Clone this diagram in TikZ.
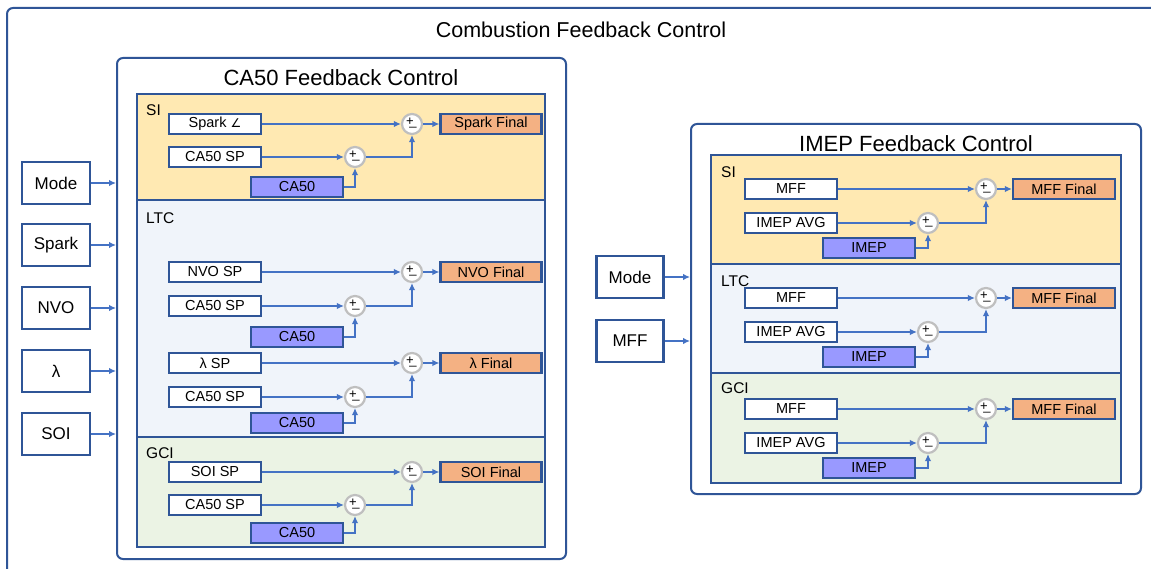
\documentclass[tikz,border=0pt]{standalone}
\usepackage{fontspec}
\setmainfont{Liberation Sans}
\newfontfamily\symfont{DejaVu Sans}
\usetikzlibrary{arrows.meta, positioning, calc}
\definecolor{cBorder}{RGB}{47,85,151}
\definecolor{cArrow}{RGB}{68,114,196}
\definecolor{cSI}{RGB}{255,233,178}
\definecolor{cLTC}{RGB}{240,244,250}
\definecolor{cGCI}{RGB}{235,243,228}
\definecolor{cFinal}{RGB}{244,177,131}
\definecolor{cMeas}{RGB}{153,153,255}
\definecolor{cSum}{RGB}{191,191,191}
\tikzset{
	ctrlbox/.style  ={rectangle, rounded corners=6pt, draw=cBorder, line width=2pt, fill=white},
	modepanel/.style={rectangle, draw=cBorder, line width=2.2pt, inner sep=0pt},
	inbox/.style    ={rectangle, draw=cBorder, line width=2.2pt, fill=white, minimum width=68pt, minimum height=42pt, font=\fontsize{17}{19}\selectfont},
	spbox/.style    ={rectangle, draw=cBorder, line width=2.2pt, fill=white, minimum width=92pt, minimum height=20pt, inner sep=0pt, font=\fontsize{14.5}{16}\selectfont},
	measbox/.style  ={spbox, fill=cMeas},
	finalbox/.style ={spbox, fill=cFinal, minimum width=101pt},
	sumpt/.style    ={circle, draw=cSum, line width=2.2pt, fill=white, minimum size=20pt, inner sep=0pt,
		path picture={
			\node[inner sep=0pt, font=\fontsize{13}{13}\selectfont] at ([xshift=-2pt,yshift=2.5pt]path picture bounding box.center) {+};
			\node[inner sep=0pt, font=\fontsize{13}{13}\selectfont] at ([xshift=1pt,yshift=-3pt]path picture bounding box.center) {\_};
		}},
	sig/.style      ={-{Latex[length=7pt,width=6.5pt]}, line width=1.8pt, draw=cArrow},
	paneltag/.style ={anchor=west, inner sep=0pt, font=\fontsize{15.5}{17}\selectfont},
	boxtitle/.style ={inner sep=0pt, font=\fontsize{22}{24}\selectfont},
}

\begin{document}
\begin{tikzpicture}[x=1pt, y=-1pt]
	\useasboundingbox (0,0) rectangle (1151,569);
	\clip (0,0) rectangle (1151,569);
	% outer frame
	\draw[ctrlbox] (7,8) rectangle (1170,590);
	\node[boxtitle, font=\fontsize{21.5}{23}\selectfont] (ttl) at (581,30) {Combustion Feedback Control};

	% CA50 loop
	\node[ctrlbox, minimum width=449pt, minimum height=501pt] (ca) at (341.5,308.5) {};
	\node[boxtitle] (caT) at (341,78) {CA50 Feedback Control};
	\node[modepanel, fill=cSI, minimum width=408pt, minimum height=106pt] (caSI) at (341,147) {};
	\node[modepanel, fill=cLTC, minimum width=408pt, minimum height=237pt] (caLTC) at (341,318.5) {};
	\node[modepanel, fill=cGCI, minimum width=408pt, minimum height=110pt] (caGCI) at (341,492) {};
	\node[paneltag] at (146,110) {SI};
	\node[paneltag] at (146,218) {LTC};
	\node[paneltag] at (146,453) {GCI};

	% SI
	\node[spbox] (sA) at (215,124) {Spark {\symfont\fontsize{12}{14}\selectfont ∠}};
	\node[sumpt] (sA1) at (412,124) {};
	\node[finalbox] (sAo) at (491,124) {Spark Final};
	\node[spbox] (sAr) at (215,157) {CA50 SP};
	\node[sumpt] (sA2) at (355,157) {};
	\node[measbox] (sAm) at (297,187) {CA50};
	% LTC, NVO
	\node[spbox] (lA) at (215,272) {NVO SP};
	\node[sumpt] (lA1) at (412,272) {};
	\node[finalbox] (lAo) at (491,272) {NVO Final};
	\node[spbox] (lAr) at (215,306) {CA50 SP};
	\node[sumpt] (lA2) at (355,306) {};
	\node[measbox] (lAm) at (297,337) {CA50};
	% LTC, lambda
	\node[spbox] (lB) at (215,363) {λ SP};
	\node[sumpt] (lB1) at (412,363) {};
	\node[finalbox] (lBo) at (491,363) {λ Final};
	\node[spbox] (lBr) at (215,397) {CA50 SP};
	\node[sumpt] (lB2) at (355,397) {};
	\node[measbox] (lBm) at (297,423) {CA50};
	% GCI
	\node[spbox] (gA) at (215,472) {SOI SP};
	\node[sumpt] (gA1) at (412,472) {};
	\node[finalbox] (gAo) at (491,472) {SOI Final};
	\node[spbox] (gAr) at (215,505) {CA50 SP};
	\node[sumpt] (gA2) at (355,505) {};
	\node[measbox] (gAm) at (297,533) {CA50};

	\foreach \r in {sA,lA,lB,gA}{
		\draw[sig] (\r) -- (\r1);
		\draw[sig] (\r1) -- (\r o);
		\draw[sig] (\r r) -- (\r2);
		\draw[sig] (\r m) -| (\r2);
		\draw[sig] (\r2) -| (\r1);
	}

	% inputs to CA50 loop
	\node[inbox] (inMode) at (56,183) {Mode};
	\node[inbox] (inSpark) at (56,245) {Spark};
	\node[inbox] (inNVO) at (56,308) {NVO};
	\node[inbox] (inLam) at (56,371) {λ};
	\node[inbox] (inSOI) at (56,434) {SOI};
	\foreach \n in {inMode,inSpark,inNVO,inLam,inSOI}
		\draw[sig] (\n) -- (\n -| ca.west);

	% IMEP loop
	\node[ctrlbox, minimum width=450pt, minimum height=370pt] (im) at (916,309) {};
	\node[boxtitle] (imT) at (916,144) {IMEP Feedback Control};
	\node[modepanel, fill=cSI, minimum width=410pt, minimum height=109pt] (imSI) at (916,209.5) {};
	\node[modepanel, fill=cLTC, minimum width=410pt, minimum height=109pt] (imLTC) at (916,318.5) {};
	\node[modepanel, fill=cGCI, minimum width=410pt, minimum height=110pt] (imGCI) at (916,428) {};
	\node[paneltag] at (721,172) {SI};
	\node[paneltag] at (721,281) {LTC};
	\node[paneltag] at (721,388) {GCI};

	\foreach \r/\y in {mS/189, mL/298, mG/409}{
		\node[spbox] (\r) at (791,\y) {MFF};
		\node[sumpt] (\r1) at (986,\y) {};
		\node[finalbox, minimum width=102pt] (\r o) at (1064,\y) {MFF Final};
		\node[spbox] (\r r) at (791,\y+34) {IMEP AVG};
		\node[sumpt] (\r2) at (928,\y+34) {};
		\node[measbox] (\r m) at (869,\y+59) {IMEP};
		\draw[sig] (\r) -- (\r1);
		\draw[sig] (\r1) -- (\r o);
		\draw[sig] (\r r) -- (\r2);
		\draw[sig] (\r m) -| (\r2);
		\draw[sig] (\r2) -| (\r1);
	}

	% inputs to IMEP loop
	\node[inbox, minimum width=67pt] (imMode) at (630,277) {Mode};
	\node[inbox, minimum width=67pt] (imMFF) at (630,341) {MFF};
	\draw[sig] (imMode) -- (imMode -| im.west);
	\draw[sig] (imMFF) -- (imMFF -| im.west);
\end{tikzpicture}
\end{document}
